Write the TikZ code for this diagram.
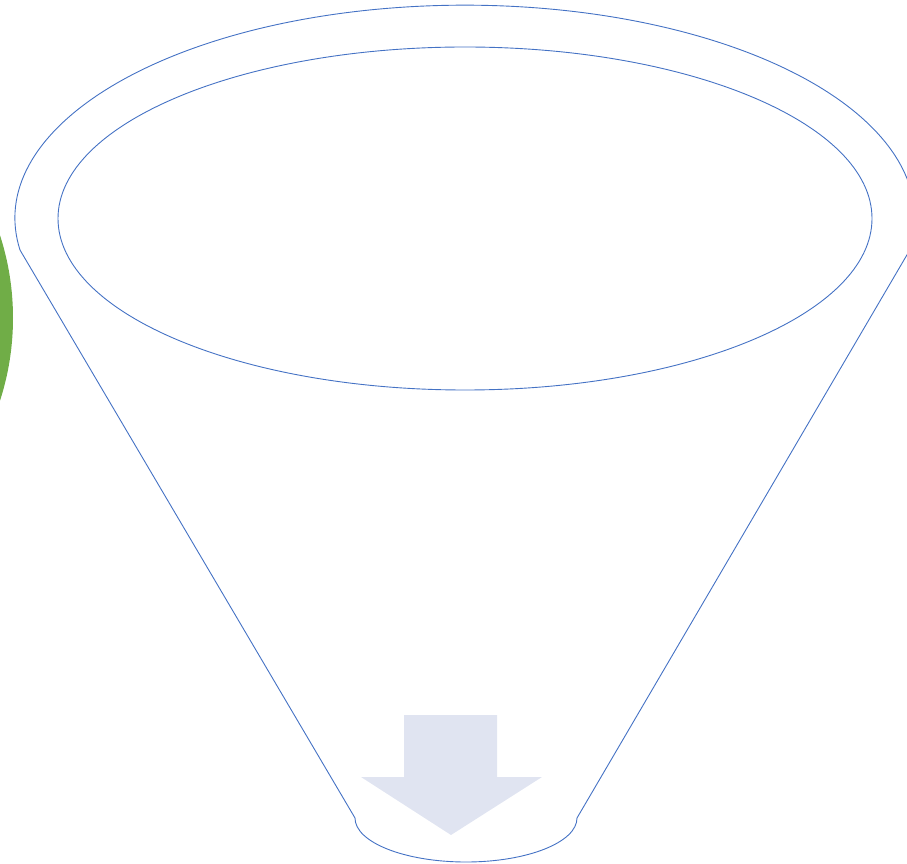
\documentclass[tikz,border=0pt]{standalone}
\definecolor{lineblue}{HTML}{4472C4}
\definecolor{leafgreen}{HTML}{70AD47}
\definecolor{arrowfill}{HTML}{E0E4F1}
\tikzset{
  funnelline/.style={draw=lineblue, line width=0.9pt, line join=round},
}
\begin{document}
\begin{tikzpicture}[x=1pt,y=1pt]
\useasboundingbox (0,0) rectangle (907,863);
% green circle at left edge
\fill[leafgreen] (-255,545) circle[radius=268];
% funnel outline
\path[funnelline] (355,45) -- (20,613)
  arc[start angle=188.6, end angle=-8.6, x radius=450, y radius=213]
  -- (577,45)
  arc[start angle=0, end angle=-180, x radius=111, y radius=44] -- cycle;
% inner rim ellipse
\path[funnelline] (465,644.5) ellipse[x radius=407, y radius=171.5];
% down arrow
\fill[arrowfill] (404,148) -- (497,148) -- (497,86) -- (542,86) -- (451,28) -- (361,86) -- (404,86) -- cycle;
\end{tikzpicture}
\end{document}
